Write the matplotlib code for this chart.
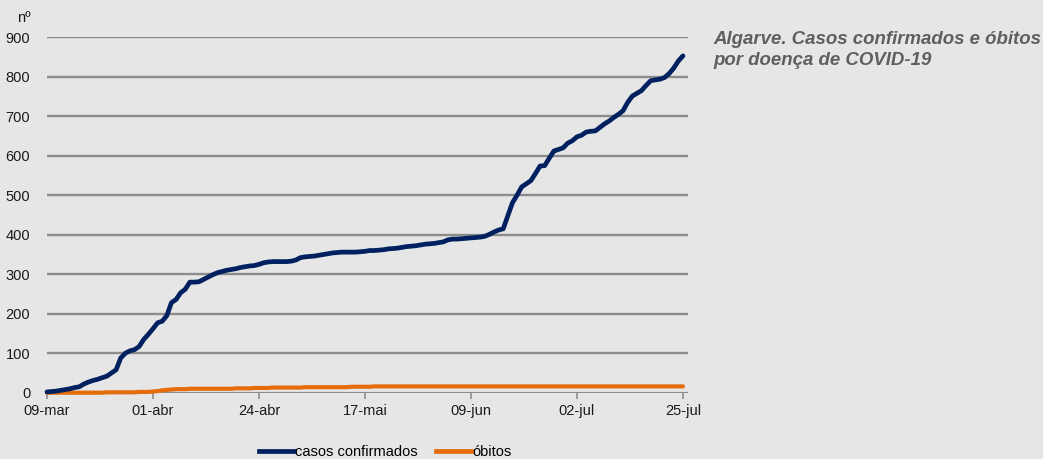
import matplotlib
matplotlib.use("Agg")
import matplotlib.pyplot as plt
from matplotlib.lines import Line2D

plt.rcParams['font.family'] = ['Liberation Sans', 'DejaVu Sans']

# Day index from 09-mar (0) to 25-jul (138)
casos = [2, 3, 4, 6, 8, 10, 13, 15, 22, 27,
         31, 34, 38, 42, 50, 58, 88, 100, 106, 109,
         117, 135, 148, 162, 177, 181, 195, 228, 236, 253,
         262, 280, 280, 281, 287, 293, 299, 304, 307, 310,
         312, 314, 317, 319, 321, 322, 325, 329, 331, 332,
         332, 332, 332, 333, 336, 342, 344, 345, 346, 348,
         350, 352, 354, 355, 356, 356, 356, 356, 357, 358,
         360, 360, 361, 362, 364, 365, 366, 368, 370, 371,
         372, 374, 376, 377, 378, 380, 382, 387, 389, 389,
         390, 391, 392, 393, 394, 396, 401, 407, 412, 415,
         448, 481, 500, 521, 529, 537, 555, 574, 575, 594,
         612, 616, 620, 632, 638, 648, 652, 660, 662, 663,
         672, 681, 688, 697, 705, 714, 735, 751, 758, 765,
         778, 790, 792, 794, 798, 808, 822, 840, 853]

obitos = [0, 0, 0, 0, 0, 0, 0, 0, 0, 0,
          0, 0, 0, 1, 1, 1, 1, 1, 1, 1,
          2, 2, 2, 3, 4, 6, 7, 8, 9, 9,
          9, 10, 10, 10, 10, 10, 10, 10, 10, 10,
          10, 11, 11, 11, 11, 12, 12, 12, 12, 13,
          13, 13, 13, 13, 13, 13, 14, 14, 14, 14,
          14, 14, 14, 14, 14, 14, 15, 15, 15, 15,
          15, 16, 16, 16, 16, 16, 16, 16, 16, 16,
          16, 16, 16, 16, 16, 16, 16, 16, 16, 16,
          16, 16, 16, 16, 16, 16, 16, 16, 16, 16,
          16, 16, 16, 16, 16, 16, 16, 16, 16, 16,
          16, 16, 16, 16, 16, 16, 16, 16, 16, 16,
          16, 16, 16, 16, 16, 16, 16, 16, 16, 16,
          16, 16, 16, 16, 16, 16, 16, 16, 16]

tick_days = [0, 23, 46, 69, 92, 115, 138]
tick_labels = ['09-mar', '01-abr', '24-abr', '17-mai', '09-jun', '02-jul', '25-jul']
y_ticks = [0, 100, 200, 300, 400, 500, 600, 700, 800, 900]

days = list(range(len(casos)))

BG = '#e6e6e6'
GRID = '#8c8c8c'
NAVY = '#002060'
ORANGE = '#e46c0a'

fig = plt.figure(figsize=(10.43, 4.59), dpi=100, facecolor=BG)
ax = fig.add_axes([47 / 1043, 1 - 392.7 / 459, 641 / 1043, (392.7 - 37.3) / 459])
ax.set_facecolor(BG)

ax.set_xlim(0, 139.1)
ax.set_ylim(0, 900)

for v in y_ticks[1:]:
    ax.axhline(v, color=GRID, lw=1.7, zorder=1)
ax.axhline(0, color=GRID, lw=2.3, zorder=1)

ax.plot(days, obitos, color=ORANGE, lw=3.0, zorder=3, clip_on=False,
        solid_capstyle='round', solid_joinstyle='round')
ax.plot(days, casos, color=NAVY, lw=3.4, zorder=4, clip_on=False,
        solid_capstyle='round', solid_joinstyle='round')

for s in ax.spines.values():
    s.set_visible(False)

ax.set_xticks(tick_days)
ax.set_xticklabels(tick_labels, fontsize=10.5, color='#1a1a1a')
ax.tick_params(axis='x', length=4, width=1.2, color=GRID, pad=4)
ax.set_yticks(y_ticks)
ax.set_yticklabels([str(v) for v in y_ticks], fontsize=10.5, color='#1a1a1a')
ax.tick_params(axis='y', length=0, pad=12)

fig.text(31 / 1043, 1 - 18 / 459, 'nº', fontsize=10.5, color='#1a1a1a',
         ha='right', va='center')

fig.text(713 / 1043, 1 - 50 / 459, 'Algarve. Casos confirmados e óbitos\npor doença de COVID-19',
         fontsize=13.4, fontweight='bold', fontstyle='italic', color='#5f5f5f',
         ha='left', va='center', linespacing=1.35)

handles = [Line2D([], [], color=NAVY, lw=3.4), Line2D([], [], color=ORANGE, lw=3.4)]
fig.legend(handles, ['casos confirmados', 'óbitos'], loc='center',
           bbox_to_anchor=(385 / 1043, 7 / 459), ncol=2, frameon=False,
           fontsize=10.5, handlelength=2.4, handletextpad=0.05, columnspacing=1.3,
           borderaxespad=0, borderpad=0)

fig.savefig('out.png', dpi=100, facecolor=BG)
